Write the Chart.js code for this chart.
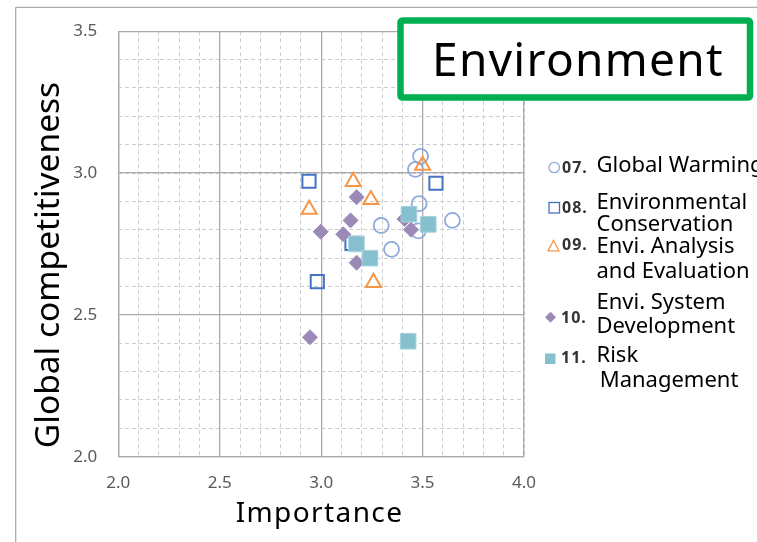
<!DOCTYPE html>
<html>
<head>
<meta charset="utf-8">
<script src="https://cdn.jsdelivr.net/npm/chart.js@4.4.1/dist/chart.umd.min.js"></script>
<style>
  html, body { margin: 0; padding: 0; background: #fff; }
  #wrap { position: relative; width: 757px; height: 542px; overflow: hidden; background: #fff; }
  #wrap canvas { position: absolute; left: 0; top: 0; }
  #overlay { position: absolute; left: 0; top: 0; }
  #overlay text { font-family: "Noto Sans", sans-serif; fill: #000; }
</style>
</head>
<body>
<div id="wrap">
  <canvas id="chart" width="757" height="542"></canvas>
  <svg id="overlay" width="757" height="542" xmlns="http://www.w3.org/2000/svg">
    <!-- chart frame -->
    <line x1="15.7" y1="7.3" x2="757" y2="7.3" stroke="#ABABAB" stroke-width="1.3"/>
    <line x1="15.7" y1="7.3" x2="15.7" y2="542" stroke="#ABABAB" stroke-width="1.3"/>

    <!-- title box -->
    <rect x="400.5" y="20.5" width="349.5" height="77" rx="2" ry="2" fill="#fff" stroke="#00B050" stroke-width="6.5"/>
    <text x="578" y="75.7" text-anchor="middle" font-size="46" letter-spacing="1.3">Environment</text>

    <!-- axis titles -->
    <text x="319.5" y="521.7" text-anchor="middle" font-size="28" letter-spacing="1.4">Importance</text>
    <text transform="translate(59.3,265) rotate(-90)" text-anchor="middle" font-size="33.5">Global competitiveness</text>

    <!-- legend -->
    <g id="legend">
      <circle cx="554.2" cy="167.5" r="5.2" fill="none" stroke="#8FAADC" stroke-width="1.3"/>
      <rect x="549" y="202.5" width="10.5" height="10.5" fill="none" stroke="#4472C4" stroke-width="1.3"/>
      <polygon points="553.5,240.5 559,250.8 548,250.8" fill="none" stroke="#F79646" stroke-width="1.3"/>
      <polygon points="550.5,311.7 556,317.2 550.5,322.7 545,317.2" fill="#9B8AB8"/>
      <rect x="545" y="353.5" width="10.5" height="10.5" fill="#86C0CF"/>

      <g font-size="16" font-weight="bold" letter-spacing="1" style="fill:#333">
        <text x="562" y="173.3" style="fill:#333">07.</text>
        <text x="562" y="212.7" style="fill:#333">08.</text>
        <text x="562" y="250.3" style="fill:#333">09.</text>
        <text x="561" y="322.7" style="fill:#333">10.</text>
        <text x="561" y="362.7" style="fill:#333">11.</text>
      </g>
      <g font-size="22">
        <text x="596.5" y="171.7">Global Warming</text>
        <text x="596.5" y="209">Environmental</text>
        <text x="596.5" y="231">Conservation</text>
        <text x="596.5" y="253.3">Envi. Analysis</text>
        <text x="596.5" y="278.3">and Evaluation</text>
        <text x="596.5" y="309">Envi. System</text>
        <text x="596.5" y="332.7">Development</text>
        <text x="596.5" y="362.3">Risk</text>
        <text x="599.7" y="386.7">Management</text>
      </g>
    </g>
  </svg>
</div>
<script>
// Importance (x) and global competitiveness (y) for each item, by group
const globalWarmingX = [3.49, 3.465, 3.483, 3.296, 3.647, 3.479, 3.347];
const globalWarmingY = [3.059, 3.013, 2.892, 2.815, 2.833, 2.796, 2.731];

const envConservationX = [2.94, 3.566, 3.152, 2.981];
const envConservationY = [2.971, 2.964, 2.752, 2.617];

const envAnalysisX = [3.50, 3.158, 2.941, 3.245, 3.258];
const envAnalysisY = [3.027, 2.970, 2.872, 2.906, 2.614];

const envSystemX = [3.175, 3.145, 2.998, 3.109, 3.175, 2.945, 3.411, 3.443];
const envSystemY = [2.915, 2.833, 2.793, 2.784, 2.684, 2.421, 2.838, 2.800];

const riskMgmtX = [3.433, 3.528, 3.174, 3.241, 3.429];
const riskMgmtY = [2.855, 2.819, 2.750, 2.700, 2.407];

// Axis ranges and tick steps
const xRange = [2.0, 4.0];
const yRange = [2.0, 3.5];
const majorStep = 0.5;
const minorStep = 0.1;

const toPoints = (xs, ys) => xs.map((x, i) => ({ x: x, y: ys[i] }));

const tickFont = { family: "Noto Sans", size: 17 };
const majorGrid = '#ABABAB';
const minorGrid = '#CDCDCD';

const datasets = [
  {
    label: '07. Global Warming',
    data: toPoints(globalWarmingX, globalWarmingY),
    pointStyle: 'circle', pointRadius: 7.5, borderWidth: 1.8,
    borderColor: '#8FAADC', backgroundColor: 'rgba(255,255,255,0)', order: 5
  },
  {
    label: '08. Environmental Conservation',
    data: toPoints(envConservationX, envConservationY),
    pointStyle: 'rect', pointRadius: 9.3, borderWidth: 2,
    borderColor: '#4472C4', backgroundColor: 'rgba(255,255,255,0)', order: 4
  },
  {
    label: '09. Envi. Analysis and Evaluation',
    data: toPoints(envAnalysisX, envAnalysisY),
    pointStyle: 'triangle', pointRadius: 8.7, borderWidth: 2,
    borderColor: '#F79646', backgroundColor: 'rgba(255,255,255,0)', order: 3
  },
  {
    label: '10. Envi. System Development',
    data: toPoints(envSystemX, envSystemY),
    pointStyle: 'rectRot', pointRadius: 7.5, borderWidth: 1,
    borderColor: '#9B8AB8', backgroundColor: '#9B8AB8', order: 2
  },
  {
    label: '11. Risk Management',
    data: toPoints(riskMgmtX, riskMgmtY),
    pointStyle: 'rect', pointRadius: 11, borderWidth: 1,
    borderColor: '#A6D2DD', backgroundColor: '#86C0CF', order: 1
  }
];

new Chart(document.getElementById('chart'), {
  type: 'scatter',
  data: { datasets: datasets },
  options: {
    responsive: false,
    animation: false,
    events: [],
    layout: { padding: { left: 0, top: 29.3, right: 233, bottom: 0 } },
    plugins: { legend: { display: false }, tooltip: { enabled: false }, title: { display: false } },
    scales: {
      xMinor: {
        type: 'linear', position: 'bottom', min: xRange[0], max: xRange[1],
        ticks: { display: false, stepSize: minorStep },
        grid: { color: minorGrid, lineWidth: 1, drawTicks: false, z: -2 },
        border: { display: false, dash: [4, 3] },
        afterFit: s => { s.height = 0; }
      },
      yMinor: {
        type: 'linear', position: 'left', min: yRange[0], max: yRange[1],
        ticks: { display: false, stepSize: minorStep },
        grid: { color: minorGrid, lineWidth: 1, drawTicks: false, z: -2 },
        border: { display: false, dash: [4, 3] },
        afterFit: s => { s.width = 0; }
      },
      x: {
        type: 'linear', position: 'bottom', min: xRange[0], max: xRange[1],
        ticks: { stepSize: majorStep, padding: 16, color: '#595959', font: tickFont,
                 callback: v => Number(v).toFixed(1) },
        grid: { color: majorGrid, lineWidth: 1.3, drawTicks: false },
        border: { color: majorGrid, width: 1.3 },
        afterFit: s => { s.height = 85.3; }
      },
      y: {
        type: 'linear', position: 'left', min: yRange[0], max: yRange[1],
        ticks: { stepSize: majorStep, padding: 21, color: '#595959', font: tickFont,
                 callback: v => Number(v).toFixed(1) },
        grid: { color: majorGrid, lineWidth: 1.3, drawTicks: false },
        border: { color: majorGrid, width: 1.3 },
        afterFit: s => { s.width = 118.3; }
      }
    }
  }
});
</script>
</body>
</html>
